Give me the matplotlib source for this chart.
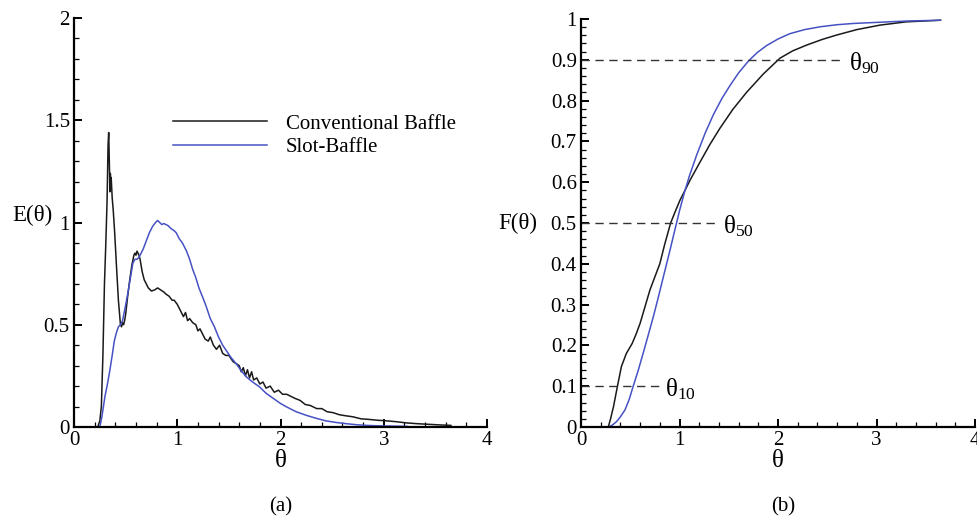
import matplotlib
matplotlib.use("Agg")
import matplotlib.pyplot as plt
from matplotlib.ticker import MultipleLocator

plt.rcParams['font.family'] = ['Liberation Serif', 'DejaVu Serif']
plt.rcParams['mathtext.fontset'] = 'custom'
plt.rcParams['mathtext.rm'] = 'Liberation Serif'
plt.rcParams['mathtext.it'] = 'Liberation Serif:italic'
plt.rcParams['mathtext.bf'] = 'Liberation Serif:bold'

# ---- data: E(theta) ----
theta_conv = [0.23, 0.25, 0.265, 0.28, 0.295, 0.307, 0.32, 0.33, 0.336, 0.342, 0.348, 0.352, 0.356, 0.36,
              0.37, 0.38, 0.394, 0.41, 0.43, 0.45, 0.46, 0.47, 0.48, 0.49, 0.50, 0.52, 0.54, 0.56, 0.58,
              0.59, 0.60, 0.61, 0.62, 0.63, 0.64, 0.66, 0.68, 0.70, 0.72, 0.75, 0.78, 0.81, 0.84, 0.87,
              0.89, 0.92, 0.95, 0.97, 1.00, 1.03, 1.06, 1.08, 1.10, 1.12, 1.15, 1.18, 1.20, 1.22, 1.25,
              1.27, 1.30, 1.32, 1.35, 1.38, 1.41, 1.44, 1.47, 1.50, 1.54, 1.57, 1.60, 1.62, 1.64, 1.66,
              1.68, 1.70, 1.72, 1.74, 1.77, 1.80, 1.83, 1.86, 1.90, 1.94, 1.98, 2.02, 2.06, 2.10, 2.14,
              2.19, 2.24, 2.29, 2.35, 2.40, 2.45, 2.51, 2.57, 2.63, 2.70, 2.78, 2.86, 2.94, 3.03, 3.12,
              3.22, 3.33, 3.44, 3.55, 3.65]
E_conv = [0.0, 0.03, 0.10, 0.35, 0.70, 0.88, 1.10, 1.38, 1.44, 1.30, 1.15, 1.24, 1.20, 1.22,
          1.12, 1.06, 0.95, 0.80, 0.62, 0.50, 0.49, 0.51, 0.50, 0.52, 0.55, 0.64, 0.72, 0.79, 0.84,
          0.85, 0.84, 0.86, 0.85, 0.84, 0.82, 0.76, 0.72, 0.70, 0.68, 0.665, 0.67, 0.68, 0.67, 0.66,
          0.65, 0.64, 0.62, 0.62, 0.60, 0.57, 0.54, 0.56, 0.52, 0.53, 0.51, 0.50, 0.47, 0.48, 0.45,
          0.43, 0.42, 0.44, 0.40, 0.38, 0.40, 0.36, 0.35, 0.35, 0.32, 0.31, 0.30, 0.27, 0.29, 0.25,
          0.28, 0.24, 0.27, 0.23, 0.24, 0.21, 0.22, 0.19, 0.20, 0.17, 0.18, 0.16, 0.16, 0.15, 0.14,
          0.13, 0.11, 0.105, 0.09, 0.09, 0.075, 0.07, 0.06, 0.055, 0.05, 0.04, 0.037, 0.033, 0.03, 0.026,
          0.02, 0.016, 0.013, 0.01, 0.008]

theta_slot = [0.25, 0.27, 0.30, 0.32, 0.345, 0.37, 0.39, 0.41, 0.43, 0.45, 0.47, 0.49, 0.52, 0.55,
              0.57, 0.59, 0.61, 0.63, 0.65, 0.67, 0.70, 0.73, 0.76, 0.79, 0.81, 0.83, 0.85, 0.87, 0.89,
              0.91, 0.94, 0.97, 0.99, 1.02, 1.05, 1.09, 1.12, 1.15, 1.18, 1.21, 1.25, 1.28, 1.32, 1.36,
              1.40, 1.44, 1.48, 1.52, 1.57, 1.62, 1.67, 1.73, 1.80, 1.86, 1.93, 2.00, 2.06, 2.15, 2.25,
              2.35, 2.44, 2.54, 2.64, 2.74, 2.83, 2.93, 3.02, 3.12, 3.23]
E_slot = [0.0, 0.05, 0.15, 0.20, 0.27, 0.35, 0.42, 0.46, 0.49, 0.50, 0.52, 0.57, 0.65, 0.74,
          0.80, 0.82, 0.82, 0.83, 0.85, 0.87, 0.91, 0.95, 0.98, 1.00, 1.01, 1.00, 0.99, 0.995, 0.99,
          0.985, 0.97, 0.96, 0.95, 0.92, 0.90, 0.86, 0.82, 0.77, 0.73, 0.68, 0.63, 0.59, 0.53, 0.49,
          0.44, 0.40, 0.37, 0.34, 0.31, 0.275, 0.245, 0.22, 0.195, 0.165, 0.14, 0.115, 0.098, 0.075, 0.057,
          0.042, 0.03, 0.022, 0.016, 0.011, 0.008, 0.006, 0.005, 0.004, 0.003]

# ---- data: F(theta) ----
thetaF_conv = [0.277, 0.30, 0.33, 0.37, 0.41, 0.46, 0.52, 0.56, 0.60, 0.65, 0.70, 0.75, 0.80, 0.85,
               0.91, 0.96, 1.005, 1.056, 1.107, 1.21, 1.31, 1.41, 1.54, 1.68, 1.85, 2.02, 2.15, 2.29,
               2.45, 2.60, 2.80, 3.035, 3.30, 3.65]
F_conv = [0.0, 0.02, 0.05, 0.10, 0.148, 0.18, 0.205, 0.228, 0.254, 0.295, 0.336, 0.368, 0.40, 0.448,
          0.50, 0.53, 0.556, 0.58, 0.605, 0.65, 0.693, 0.732, 0.778, 0.82, 0.865, 0.904, 0.922, 0.936,
          0.95, 0.961, 0.974, 0.985, 0.993, 0.997]
thetaF_slot = [0.277, 0.32, 0.36, 0.40, 0.447, 0.49, 0.53, 0.58, 0.63, 0.68, 0.734, 0.785, 0.836,
               0.90, 0.95, 1.00, 1.05, 1.10, 1.175, 1.26, 1.343, 1.43, 1.51, 1.60, 1.70, 1.79, 1.885,
               2.00, 2.12, 2.27, 2.43, 2.60, 2.76, 3.03, 3.30, 3.65]
F_slot = [0.0, 0.005, 0.013, 0.025, 0.042, 0.068, 0.10, 0.138, 0.18, 0.223, 0.27, 0.318, 0.368,
          0.43, 0.48, 0.53, 0.575, 0.615, 0.667, 0.72, 0.765, 0.805, 0.836, 0.868, 0.897, 0.918, 0.935,
          0.951, 0.964, 0.974, 0.981, 0.986, 0.989, 0.992, 0.995, 0.997]

levels = [0.1, 0.5, 0.9]
level_ends = [0.79, 1.38, 2.66]
level_labels = [r'$\mathrm{\theta}_{\mathrm{10}}$', r'$\mathrm{\theta}_{\mathrm{50}}$', r'$\mathrm{\theta}_{\mathrm{90}}$']
series_names = ['Conventional Baffle', 'Slot-Baffle']
colors = ['#1a1a1a', '#4652c4']

W, H = 977, 521
fig = plt.figure(figsize=(W / 100, H / 100), dpi=100)
axL = fig.add_axes([74 / W, 1 - 427 / H, 413 / W, 409 / H])
axR = fig.add_axes([581 / W, 1 - 427 / H, 394 / W, 408 / H])

FS = 15


def style(ax):
    for s in ['top', 'right']:
        ax.spines[s].set_visible(False)
    for s in ['left', 'bottom']:
        ax.spines[s].set_linewidth(1.6)
    ax.tick_params(which='major', direction='in', length=6, width=1.4, labelsize=FS, pad=3)
    ax.tick_params(which='minor', direction='in', length=3.5, width=0.9)
    ax.set_xlim(0, 4)
    ax.xaxis.set_major_locator(MultipleLocator(1))
    ax.xaxis.set_minor_locator(MultipleLocator(0.2))
    ax.set_facecolor('none')


style(axL)
axL.set_ylim(0, 2)
axL.yaxis.set_minor_locator(MultipleLocator(0.1))
axL.set_yticks([0, 0.5, 1, 1.5, 2])
axL.set_yticklabels(['0', '0.5', '1', '1.5', '2'])
axL.plot(theta_conv, E_conv, color=colors[0], lw=1.1, label=series_names[0])
axL.plot(theta_slot, E_slot, color=colors[1], lw=1.1, label=series_names[1])
axL.legend(loc='upper left', bbox_to_anchor=(0.24, 0.765), frameon=False, fontsize=FS,
           handlelength=4.5, handletextpad=0.9, labelspacing=0.2, borderpad=0, borderaxespad=0)

style(axR)
axR.set_ylim(0, 1)
axR.yaxis.set_minor_locator(MultipleLocator(0.02))
axR.set_yticks([i / 10 for i in range(11)])
axR.set_yticklabels(['0'] + ['0.%d' % i for i in range(1, 10)] + ['1'])
axR.plot(thetaF_conv, F_conv, color=colors[0], lw=1.1)
axR.plot(thetaF_slot, F_slot, color=colors[1], lw=1.1)
for lv, xe, lab in zip(levels, level_ends, level_labels):
    axR.plot([0, xe], [lv, lv], color='#333333', lw=1.0, linestyle=(0, (6, 4)))
    axR.text(xe + 0.06, lv - 0.008, lab, fontsize=FS + 3, va='center', ha='left')

for ax in (axL, axR):
    for lab in ax.get_xticklabels() + ax.get_yticklabels():
        lab.set_fontsize(FS)

fig.text(32 / W, 1 - 215 / H, 'E(θ)', fontsize=FS + 1.5, ha='center', va='center')
fig.text(518 / W, 1 - 223 / H, 'F(θ)', fontsize=FS + 1.5, ha='center', va='center')
fig.text(281 / W, 1 - 461 / H, 'θ', fontsize=FS + 3, ha='center', va='center')
fig.text(778 / W, 1 - 461 / H, 'θ', fontsize=FS + 3, ha='center', va='center')
fig.text(281 / W, 1 - 507 / H, '(a)', fontsize=FS, ha='center', va='center')
fig.text(783 / W, 1 - 507 / H, '(b)', fontsize=FS, ha='center', va='center')

fig.savefig('out.png', dpi=100)
